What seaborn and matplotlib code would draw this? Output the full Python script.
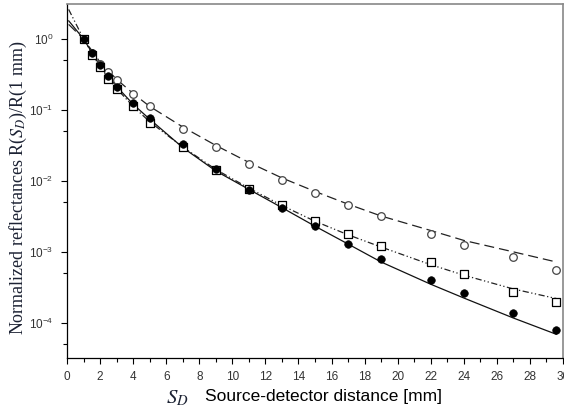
import numpy as np
import seaborn as sns
import matplotlib.pyplot as plt
from matplotlib.ticker import LogLocator, NullFormatter, MultipleLocator

# measured points (normalized to R at 1 mm)
sd = [1, 1.5, 2, 2.5, 3, 4, 5, 7, 9, 11, 13, 15, 17, 19, 22, 24, 27, 29.6]
r_open = [1.0, 0.63, 0.45, 0.34, 0.26, 0.166, 0.112, 0.054, 0.030, 0.0174, 0.0102,
          0.0068, 0.0046, 0.0032, 0.0018, 0.00126, 0.00085, 0.00056]
r_filled = [1.0, 0.63, 0.43, 0.30, 0.21, 0.123, 0.076, 0.033, 0.0145, 0.0074, 0.0041,
            0.0023, 0.00129, 0.00079, 0.00040, 0.00026, 0.000138, 0.000079]
r_square = [1.0, 0.59, 0.40, 0.275, 0.195, 0.112, 0.065, 0.030, 0.0141, 0.0076, 0.0045,
            0.00275, 0.00178, 0.0012, 0.00071, 0.00049, 0.000275, 0.000195]

# fitted curves
sd_fit = [0.1, 1, 2, 3, 4, 5, 7, 9, 11, 13, 15, 17, 19, 22, 24, 27, 29.6]
fit_open = [1.6, 1.0, 0.47, 0.27, 0.17, 0.112, 0.0575, 0.0316, 0.0182, 0.011, 0.0071,
            0.0047, 0.0032, 0.0020, 0.00145, 0.0010, 0.00072]
fit_filled = [1.8, 1.0, 0.42, 0.214, 0.12, 0.074, 0.0295, 0.0138, 0.0076, 0.0042, 0.0023,
              0.00129, 0.00072, 0.00035, 0.000224, 0.000117, 0.000069]
fit_square = [2.6, 1.0, 0.40, 0.20, 0.112, 0.068, 0.030, 0.0145, 0.0079, 0.0045, 0.0027,
              0.00174, 0.00117, 0.00066, 0.00047, 0.0003, 0.00022]

sns.set_style("ticks")
plt.rcParams['font.family'] = ['Liberation Sans', 'DejaVu Sans']
plt.rcParams['mathtext.fontset'] = 'stix'

fig = plt.figure(figsize=(5.64, 4.12), dpi=100)
ax = fig.add_axes([67 / 564, 54 / 412, 496 / 564, 354 / 412])

sns.lineplot(x=sd_fit, y=fit_open, ax=ax, color='#222', linewidth=0.9,
             linestyle=(0, (8, 4)))
sns.lineplot(x=sd_fit, y=fit_square, ax=ax, color='#222', linewidth=0.9,
             linestyle=(0, (5, 2, 1, 2, 1, 2)))
sns.lineplot(x=sd_fit, y=fit_filled, ax=ax, color='#111', linewidth=0.9)

sns.scatterplot(x=sd, y=r_open, ax=ax, marker='o', s=30, facecolor='white',
                edgecolor='#444', linewidth=0.9, zorder=3)
sns.scatterplot(x=sd, y=r_square, ax=ax, marker='s', s=30, facecolor='white',
                edgecolor='black', linewidth=0.9, zorder=4)
sns.scatterplot(x=sd, y=r_filled, ax=ax, marker='o', s=30, color='black',
                edgecolor='black', zorder=5)

ax.set_yscale('log')
ax.set_xlim(0, 30)
ax.set_ylim(3.2e-5, 3.1)
ax.xaxis.set_major_locator(MultipleLocator(2))
ax.xaxis.set_minor_locator(MultipleLocator(1))
ax.yaxis.set_major_locator(LogLocator(base=10))
ax.yaxis.set_minor_locator(LogLocator(base=10, subs=[5.0]))
ax.yaxis.set_minor_formatter(NullFormatter())

ax.tick_params(which='major', direction='out', length=4, width=0.8,
               labelsize=8.5, labelcolor='#333', color='black')
ax.tick_params(which='minor', direction='out', length=3, width=0.8, color='black')
ax.tick_params(axis='x', pad=5)
ax.tick_params(axis='y', pad=6)

for side in ['left', 'bottom']:
    ax.spines[side].set_color('black')
    ax.spines[side].set_linewidth(0.9)
for side in ['top', 'right']:
    ax.spines[side].set_visible(True)
    ax.spines[side].set_color('#888')
    ax.spines[side].set_linewidth(1.2)

ax.set_xlabel('')
ax.set_ylabel('')
fig.text(18 / 564, 1 - 188 / 412, 'Normalized reflectances R($S_D$)/R(1 mm)',
         rotation=90, ha='center', va='center', fontsize=13,
         family=['Liberation Serif'], color='#1c2233')
fig.text(166 / 564, 1 - 398 / 412, '$S_D$', ha='left', va='center', fontsize=15,
         color='#1c2233')
fig.text(205 / 564, 1 - 397 / 412, 'Source-detector distance [mm]', ha='left',
         va='center', fontsize=12.5, color='black')

fig.savefig('out.png', dpi=100)
